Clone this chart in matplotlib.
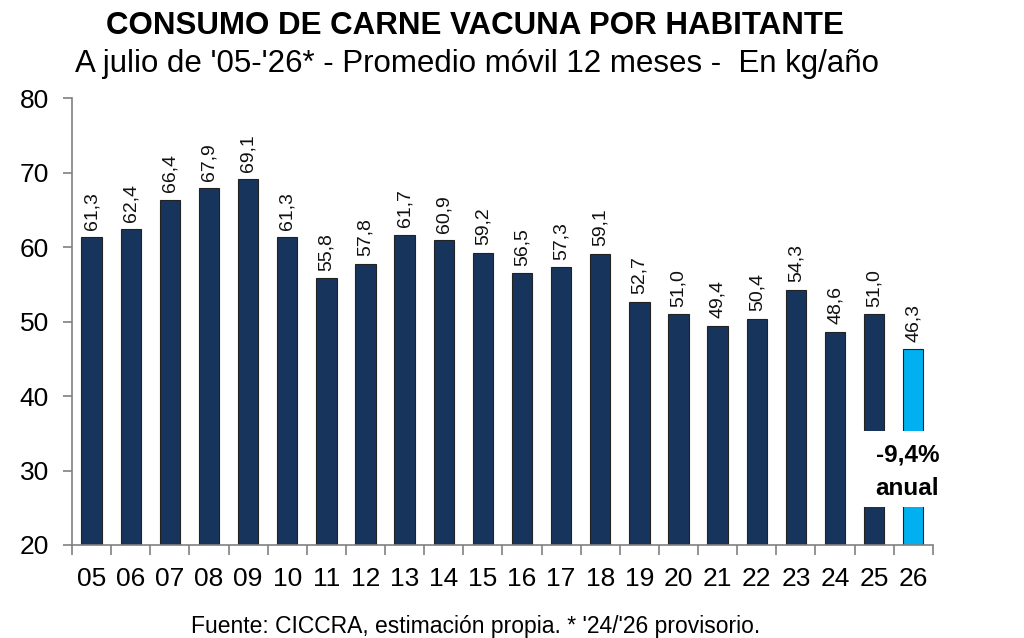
import numpy as np
import matplotlib.pyplot as plt
from matplotlib.patches import Rectangle

plt.rcParams['font.family'] = ['Liberation Sans', 'DejaVu Sans']

years = ['05', '06', '07', '08', '09', '10', '11', '12', '13', '14', '15',
         '16', '17', '18', '19', '20', '21', '22', '23', '24', '25', '26']
consumo = [61.3, 62.4, 66.4, 67.9, 69.1, 61.3, 55.8, 57.8, 61.7, 60.9, 59.2,
           56.5, 57.3, 59.1, 52.7, 51.0, 49.4, 50.4, 54.3, 48.6, 51.0, 46.3]
var_anual = '-9,4%'

navy = '#17345c'
cyan = '#00b0f0'
grey = '#808080'

fig = plt.figure(figsize=(10.24, 6.38), dpi=100)
ax = fig.add_axes([0.0703, 0.1458, 0.8407, 0.7002])

x = np.arange(len(years))
colors = [navy] * (len(years) - 1) + [cyan]
ax.bar(x, consumo, width=0.52, bottom=0, color=colors, edgecolor='#222222', linewidth=0.8, zorder=2)

for xi, v in zip(x, consumo):
    ax.annotate(f'{v:.1f}'.replace('.', ','), (xi, v), xytext=(0, 5.5), textcoords='offset points',
                rotation=90, ha='center', va='bottom', fontsize=14, color='#111111')

# white box with annual change over the last two bars
ax.add_patch(Rectangle((x[-2] - 0.3, 25.1), 2.0, 10.2, facecolor='white', edgecolor='none', zorder=3))
ax.text(x[-1] - 0.15, 32.1, var_anual, ha='center', va='center', fontsize=17.5, fontweight='bold', zorder=4)
ax.text(x[-1] - 0.15, 27.6, 'anual', ha='center', va='center', fontsize=17.5, fontweight='bold', zorder=4)

ax.set_ylim(20, 80)
ax.set_xlim(-0.5, len(years) - 0.5)
ax.set_yticks(range(20, 81, 10))
ax.set_xticks(x)
ax.set_xticklabels(years)
ax.set_xticks(np.arange(len(years) + 1) - 0.5, minor=True)
ax.tick_params(axis='x', which='major', length=0, labelsize=19, pad=16)
ax.tick_params(axis='x', which='minor', length=7, color=grey, width=1.2, direction='out')
ax.tick_params(axis='y', length=6.5, color=grey, width=1.2, labelsize=19, pad=10)

for s in ['top', 'right']:
    ax.spines[s].set_visible(False)
for s in ['left', 'bottom']:
    ax.spines[s].set_color(grey)
    ax.spines[s].set_linewidth(1.2)

fig.text(0.464, 0.96, 'CONSUMO DE CARNE VACUNA POR HABITANTE', ha='center', va='center',
         fontsize=22.5, fontweight='bold')
fig.text(0.466, 0.9, "A julio de '05-'26* - Promedio móvil 12 meses -  En kg/año", ha='center',
         va='center', fontsize=22.5)
fig.text(0.464, 0.018, "Fuente: CICCRA, estimación propia. * '24/'26 provisorio.", ha='center',
         va='center', fontsize=16.5)

fig.savefig('out.png', dpi=100)
